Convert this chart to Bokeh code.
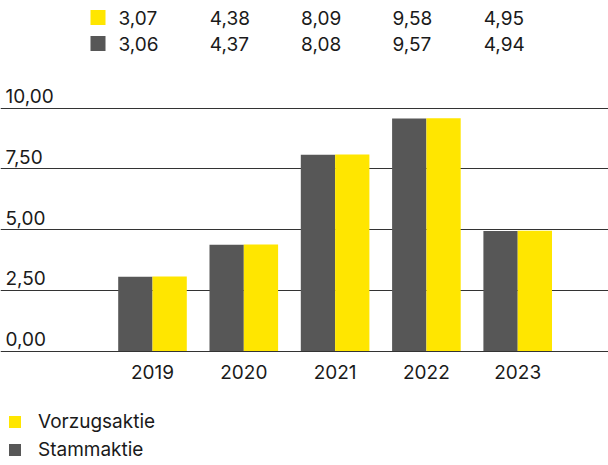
from bokeh.plotting import figure
from bokeh.models import ColumnDataSource, FixedTicker, Grid, Legend, LegendItem, Range1d
from bokeh.core.properties import value
from bokeh.transform import dodge
from bokeh.embed import file_html
from bokeh.resources import INLINE

# ---- data ----
years = ["2019", "2020", "2021", "2022", "2023"]
vorzug = [3.07, 4.38, 8.09, 9.58, 4.95]
stamm = [3.06, 4.37, 8.08, 9.57, 4.94]
vorzug_labels = ["3,07", "4,38", "8,09", "9,58", "4,95"]
stamm_labels = ["3,06", "4,37", "8,08", "9,57", "4,94"]
y_ticks = [0, 2.5, 5, 7.5, 10]
y_tick_labels = ["0,00", "2,50", "5,00", "7,50", "10,00"]
series_names = ["Vorzugsaktie", "Stammaktie"]

# ---- styling ----
YELLOW = "#FFE600"
GRAY = "#575757"
TEXT = "#1a1a1a"
GRID = "#333333"
FONT = "Inter"
FS = "19px"

W, H = 608, 465
PX_X = 91.3          # pixels per category
CAT0 = 152           # frame x of first category
PX_Y = 24.3          # pixels per unit
ZERO = 350.5         # frame y (from top) of zero line

x_start = -CAT0 / PX_X
x_end = (W - CAT0) / PX_X
y_start = -(H - ZERO) / PX_Y
y_end = ZERO / PX_Y


def fx(px):
    return (px - CAT0) / PX_X


def fy(py):
    return (ZERO - py) / PX_Y


idx = list(range(len(years)))
src = ColumnDataSource(dict(x=idx, years=years, vorzug=vorzug, stamm=stamm,
                            vl=vorzug_labels, sl=stamm_labels))

p = figure(width=W, height=H, output_backend="svg", toolbar_location=None,
           x_range=Range1d(x_start, x_end), y_range=Range1d(y_start, y_end),
           x_axis_location=None, y_axis_location=None, min_border=0,
           outline_line_color=None, background_fill_color="white")
p.xgrid.visible = False
p.ygrid.visible = False

p.add_layout(Grid(dimension=1, ticker=FixedTicker(ticks=y_ticks),
                  grid_line_color=GRID, grid_line_width=1.2))

BW = 34.3 / PX_X
r_stamm = p.vbar(x=dodge("x", -BW / 2, range=p.x_range), top="stamm", width=BW,
                 bottom=0, source=src, fill_color=GRAY, line_color=None)
r_vorzug = p.vbar(x=dodge("x", BW / 2, range=p.x_range), top="vorzug", width=BW,
                  bottom=0, source=src, fill_color=YELLOW, line_color=None)

# y tick labels above grid lines
tick_src = ColumnDataSource(dict(y=y_ticks, t=y_tick_labels,
                                 x=[fx(5)] * len(y_ticks)))
p.text(x="x", y="y", text="t", source=tick_src, y_offset=-12,
       text_align="left", text_baseline="middle", text_color=TEXT,
       text_font=value(FONT), text_font_size=FS)

# year labels
p.text(x="x", y=0, text="years", source=src, y_offset=21, text_align="center",
       text_baseline="middle", text_color=TEXT, text_font=value(FONT), text_font_size=FS)

# top value table
p.text(x="x", y=fy(17), text="vl", source=src, x_offset=-34, text_align="left",
       text_baseline="middle", text_color=TEXT, text_font=value(FONT), text_font_size=FS)
p.text(x="x", y=fy(43), text="sl", source=src, x_offset=-34, text_align="left",
       text_baseline="middle", text_color=TEXT, text_font=value(FONT), text_font_size=FS)
p.rect(x=[fx(97.5), fx(97.5)], y=[fy(17), fy(43)], width=15, height=15,
       width_units="screen", height_units="screen",
       fill_color=[YELLOW, GRAY], line_color=None)

legend = Legend(items=[LegendItem(label=series_names[0], renderers=[r_vorzug]),
                       LegendItem(label=series_names[1], renderers=[r_stamm])],
                location=(7, 4), padding=0, margin=0, spacing=5,
                glyph_width=15, glyph_height=15, label_standoff=16,
                label_text_font=FONT, label_text_font_size=FS, label_text_color=TEXT,
                border_line_color=None, background_fill_alpha=0)
p.add_layout(legend)

open("out.html", "w").write(file_html(p, INLINE))
